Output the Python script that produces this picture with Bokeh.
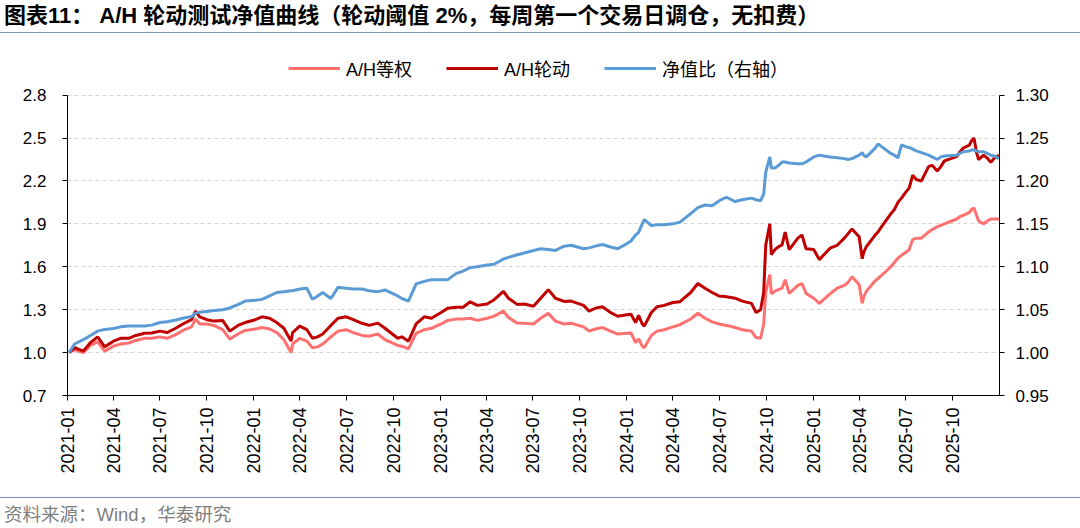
import math
import pandas as pd
from bokeh.plotting import figure
from bokeh.layouts import column
from bokeh.models import (Range1d, LinearAxis, FixedTicker, PrintfTickFormatter,
                          DatetimeTickFormatter, Legend, LegendItem, Div,
                          ColumnDataSource)
from bokeh.embed import file_html
from bokeh.resources import INLINE

title_text = "图表11： A/H 轮动测试净值曲线（轮动阈值 2%，每周第一个交易日调仓，无扣费）"
source_text = "资料来源：Wind，华泰研究"
series_names = ["A/H等权", "A/H轮动", "净值比（右轴）"]

dates = [
    "2021-01-04", "2021-01-15", "2021-02-01", "2021-02-15", "2021-03-01", "2021-03-15",
    "2021-04-01", "2021-04-15", "2021-05-01", "2021-05-15", "2021-06-01", "2021-06-15",
    "2021-07-01", "2021-07-15", "2021-08-01", "2021-08-15", "2021-09-01", "2021-09-09",
    "2021-09-17", "2021-10-01", "2021-10-15", "2021-11-01", "2021-11-15", "2021-12-01",
    "2021-12-15", "2022-01-04", "2022-01-17", "2022-02-01", "2022-02-15", "2022-03-01",
    "2022-03-15", "2022-03-18", "2022-04-01", "2022-04-15", "2022-04-26", "2022-05-06",
    "2022-05-16", "2022-06-01", "2022-06-15", "2022-07-01", "2022-07-15", "2022-08-01",
    "2022-08-15", "2022-09-01", "2022-09-15", "2022-10-10", "2022-10-18", "2022-10-31",
    "2022-11-15", "2022-12-01", "2022-12-15", "2023-01-03", "2023-01-16", "2023-02-01",
    "2023-02-15", "2023-03-01", "2023-03-15", "2023-04-03", "2023-04-17", "2023-05-05",
    "2023-05-15", "2023-06-01", "2023-06-15", "2023-07-03", "2023-07-17", "2023-08-01",
    "2023-08-15", "2023-09-01", "2023-09-15", "2023-10-09", "2023-10-20", "2023-11-01",
    "2023-11-15", "2023-12-01", "2023-12-15", "2024-01-02", "2024-01-10", "2024-01-19",
    "2024-01-25", "2024-02-01", "2024-02-05", "2024-02-19", "2024-03-01", "2024-03-15",
    "2024-04-01", "2024-04-15", "2024-05-06", "2024-05-20", "2024-06-03", "2024-06-17",
    "2024-07-01", "2024-07-15", "2024-08-01", "2024-08-15", "2024-09-02", "2024-09-11",
    "2024-09-20", "2024-09-26", "2024-09-30", "2024-10-08", "2024-10-11", "2024-10-18",
    "2024-10-25", "2024-11-01", "2024-11-07", "2024-11-15", "2024-12-02", "2024-12-10",
    "2024-12-18", "2025-01-02", "2025-01-13", "2025-02-03", "2025-02-17", "2025-03-03",
    "2025-03-10", "2025-03-18", "2025-04-01", "2025-04-07", "2025-04-10", "2025-04-15",
    "2025-05-02", "2025-05-08", "2025-05-15", "2025-06-02", "2025-06-09", "2025-06-16",
    "2025-06-23", "2025-07-01", "2025-07-08", "2025-07-15", "2025-07-22", "2025-08-01",
    "2025-08-15", "2025-08-22", "2025-09-01", "2025-09-08", "2025-09-15", "2025-10-09",
    "2025-10-15", "2025-10-22", "2025-11-03", "2025-11-07", "2025-11-12", "2025-11-17",
    "2025-11-21", "2025-12-01", "2025-12-08", "2025-12-15", "2025-12-22", "2025-12-31",
]

equal_weight = [
    1.00, 1.02, 1.00, 1.05, 1.075, 1.01,
    1.045, 1.06, 1.067, 1.085, 1.10, 1.10,
    1.11, 1.10, 1.125, 1.155, 1.18, 1.234,
    1.20, 1.20, 1.19, 1.16, 1.095, 1.13,
    1.155, 1.165, 1.175, 1.165, 1.14, 1.09,
    1.00, 1.06, 1.10, 1.08, 1.033, 1.04,
    1.06, 1.11, 1.15, 1.16, 1.14, 1.12,
    1.115, 1.13, 1.09, 1.05, 1.045, 1.026,
    1.135, 1.16, 1.17, 1.20, 1.225, 1.234,
    1.235, 1.24, 1.225, 1.24, 1.255, 1.29,
    1.245, 1.206, 1.205, 1.20, 1.24, 1.275,
    1.22, 1.20, 1.205, 1.18, 1.15, 1.165,
    1.175, 1.15, 1.13, 1.135, 1.137, 1.07,
    1.095, 1.045, 1.033, 1.12, 1.15, 1.16,
    1.18, 1.195, 1.235, 1.275, 1.24, 1.215,
    1.20, 1.19, 1.175, 1.16, 1.15, 1.105,
    1.10, 1.20, 1.42, 1.545, 1.41, 1.43,
    1.44, 1.45, 1.51, 1.414, 1.47, 1.483,
    1.414, 1.38, 1.344, 1.41, 1.45, 1.47,
    1.49, 1.53, 1.476, 1.344, 1.39, 1.428,
    1.50, 1.518, 1.54, 1.60, 1.63, 1.66,
    1.68, 1.70, 1.72, 1.79, 1.80, 1.80,
    1.843, 1.86, 1.88, 1.89, 1.90, 1.934,
    1.95, 1.96, 1.98, 2.00, 2.01, 1.96,
    1.92, 1.90, 1.92, 1.934, 1.934, 1.934,
]

rotation = [
    1.00, 1.035, 1.01, 1.07, 1.11, 1.04,
    1.08, 1.10, 1.10, 1.12, 1.135, 1.137,
    1.15, 1.14, 1.17, 1.20, 1.23, 1.29,
    1.25, 1.23, 1.22, 1.225, 1.15, 1.19,
    1.21, 1.23, 1.25, 1.24, 1.21, 1.17,
    1.08, 1.14, 1.185, 1.16, 1.10, 1.11,
    1.13, 1.19, 1.24, 1.25, 1.23, 1.205,
    1.19, 1.206, 1.17, 1.10, 1.11, 1.08,
    1.20, 1.25, 1.24, 1.28, 1.31, 1.317,
    1.317, 1.355, 1.33, 1.34, 1.37, 1.428,
    1.38, 1.337, 1.34, 1.324, 1.38, 1.44,
    1.38, 1.358, 1.36, 1.33, 1.29, 1.31,
    1.32, 1.28, 1.254, 1.265, 1.268, 1.21,
    1.26, 1.20, 1.185, 1.28, 1.32, 1.33,
    1.35, 1.356, 1.42, 1.483, 1.45, 1.42,
    1.395, 1.39, 1.38, 1.36, 1.344, 1.28,
    1.30, 1.42, 1.75, 1.90, 1.684, 1.72,
    1.74, 1.753, 1.843, 1.72, 1.80, 1.823,
    1.726, 1.72, 1.65, 1.73, 1.75, 1.80,
    1.83, 1.864, 1.81, 1.656, 1.70, 1.74,
    1.82, 1.843, 1.88, 1.97, 2.00, 2.05,
    2.08, 2.12, 2.15, 2.24, 2.21, 2.20,
    2.30, 2.31, 2.27, 2.30, 2.34, 2.37,
    2.40, 2.43, 2.45, 2.48, 2.50, 2.40,
    2.35, 2.38, 2.36, 2.33, 2.36, 2.38,
]

ratio = [
    1.000, 1.010, 1.015, 1.020, 1.025, 1.027,
    1.028, 1.030, 1.031, 1.031, 1.031, 1.032,
    1.035, 1.036, 1.038, 1.040, 1.042, 1.046,
    1.047, 1.048, 1.049, 1.050, 1.052, 1.056,
    1.060, 1.061, 1.062, 1.066, 1.070, 1.071,
    1.072, 1.072, 1.074, 1.075, 1.062, 1.066,
    1.070, 1.063, 1.076, 1.075, 1.074, 1.074,
    1.072, 1.071, 1.073, 1.066, 1.063, 1.060,
    1.080, 1.083, 1.085, 1.085, 1.085, 1.092,
    1.095, 1.099, 1.100, 1.102, 1.103, 1.109,
    1.111, 1.114, 1.116, 1.119, 1.121, 1.120,
    1.119, 1.124, 1.125, 1.121, 1.122, 1.124,
    1.126, 1.123, 1.121, 1.127, 1.130, 1.137,
    1.140, 1.150, 1.155, 1.148, 1.149, 1.149,
    1.150, 1.152, 1.162, 1.169, 1.172, 1.171,
    1.177, 1.181, 1.176, 1.178, 1.180, 1.178,
    1.177, 1.185, 1.210, 1.228, 1.215, 1.215,
    1.218, 1.222, 1.222, 1.221, 1.220, 1.220,
    1.222, 1.228, 1.230, 1.228, 1.227, 1.226,
    1.225, 1.226, 1.230, 1.233, 1.230, 1.228,
    1.238, 1.243, 1.240, 1.232, 1.230, 1.227,
    1.242, 1.240, 1.239, 1.237, 1.235, 1.233,
    1.230, 1.228, 1.225, 1.228, 1.229, 1.230,
    1.232, 1.234, 1.235, 1.236, 1.236, 1.235,
    1.234, 1.234, 1.232, 1.230, 1.229, 1.226,
]

left_ticks = [0.7, 1.0, 1.3, 1.6, 1.9, 2.2, 2.5, 2.8]
right_ticks = [0.95, 1.00, 1.05, 1.10, 1.15, 1.20, 1.25, 1.30]
tick_months = [
    "2021-01", "2021-04", "2021-07", "2021-10", "2022-01", "2022-04", "2022-07",
    "2022-10", "2023-01", "2023-04", "2023-07", "2023-10", "2024-01", "2024-04",
    "2024-07", "2024-10", "2025-01", "2025-04", "2025-07", "2025-10",
]

FONT = "Liberation Sans, Noto Sans CJK SC"
C_EQ = "#FF7070"
C_ROT = "#C00000"
C_RATIO = "#5B9BD5"
C_SEP = "#7F95C0"

# frame reaches above the 2.8 line to hold the legend; axes are bounded to the data span
TOP_PAD = 45 / 303
left_lo, left_hi = left_ticks[0], left_ticks[-1]
right_lo, right_hi = right_ticks[0], right_ticks[-1]

source = ColumnDataSource(data=dict(
    date=pd.to_datetime(dates), eq=equal_weight, rot=rotation, ratio=ratio))

p = figure(width=1080, height=464, x_axis_type="datetime",
           x_range=Range1d(pd.Timestamp("2021-01-01"), pd.Timestamp("2026-01-01")),
           y_range=Range1d(left_lo, left_hi + (left_hi - left_lo) * TOP_PAD),
           output_backend="svg", toolbar_location=None,
           min_border_left=67, min_border_right=81, min_border_top=17, min_border_bottom=102)
p.extra_y_ranges = {"ratio": Range1d(right_lo, right_hi + (right_hi - right_lo) * TOP_PAD)}
p.outline_line_color = None
p.background_fill_color = "white"
p.border_fill_color = "white"

r_eq = p.line("date", "eq", source=source, line_color=C_EQ, line_width=3)
r_rot = p.line("date", "rot", source=source, line_color=C_ROT, line_width=3)
r_ratio = p.line("date", "ratio", source=source, line_color=C_RATIO, line_width=3,
                 y_range_name="ratio")

tick_ms = [pd.Timestamp(m + "-01").value / 1e6 for m in tick_months]
xax = p.xaxis[0]
xax.ticker = FixedTicker(ticks=tick_ms)
fmt = "%Y-%m"
xax.formatter = DatetimeTickFormatter(microseconds=fmt, milliseconds=fmt, seconds=fmt,
                                      minsec=fmt, minutes=fmt, hourmin=fmt, hours=fmt,
                                      days=fmt, months=fmt, years=fmt)
xax.major_label_orientation = math.pi / 2
xax.major_label_standoff = 7
xax.major_tick_out = 5
xax.major_tick_in = 0
xax.minor_tick_line_color = None
xax.axis_line_color = "#000000"
xax.major_tick_line_color = "#000000"
xax.major_label_text_font = FONT
xax.major_label_text_font_size = "18px"
xax.major_label_text_color = "#000000"

yax = p.yaxis[0]
yax.ticker = FixedTicker(ticks=left_ticks)
yax.formatter = PrintfTickFormatter(format="%.1f")
yax.bounds = (left_lo, left_hi)
yax.major_label_standoff = 16
yax.major_tick_out = 5
yax.major_tick_in = 0
yax.minor_tick_line_color = None
yax.axis_line_color = "#000000"
yax.major_tick_line_color = "#000000"
yax.major_label_text_font = FONT
yax.major_label_text_font_size = "17px"
yax.major_label_text_color = "#000000"

rax = LinearAxis(y_range_name="ratio", ticker=FixedTicker(ticks=right_ticks),
                 formatter=PrintfTickFormatter(format="%.2f"), bounds=(right_lo, right_hi))
rax.major_label_standoff = 11
rax.major_tick_out = 5
rax.major_tick_in = 0
rax.minor_tick_line_color = None
rax.axis_line_color = "#000000"
rax.major_tick_line_color = "#000000"
rax.major_label_text_font = FONT
rax.major_label_text_font_size = "17px"
rax.major_label_text_color = "#000000"
p.add_layout(rax, "right")

p.xgrid.visible = False
p.ygrid.ticker = FixedTicker(ticks=left_ticks)
p.ygrid.grid_line_color = "#D4D4D4"
p.ygrid.grid_line_dash = "4 3"
p.ygrid.grid_line_width = 1

legend = Legend(items=[LegendItem(label=series_names[0], renderers=[r_eq]),
                       LegendItem(label=series_names[1], renderers=[r_rot]),
                       LegendItem(label=series_names[2], renderers=[r_ratio])],
                location=(221, 314), orientation="horizontal",
                glyph_width=52, glyph_height=20, label_standoff=6, spacing=34,
                padding=0, margin=0, border_line_alpha=0, background_fill_alpha=0,
                label_text_font=FONT, label_text_font_size="18px",
                label_text_color="#000000")
p.add_layout(legend, "center")

title_div = Div(text=title_text, width=1080, height=33, margin=0,
                styles={"font-family": FONT, "font-size": "22px", "font-weight": "bold",
                        "color": "#000000", "line-height": "31px", "padding-left": "4px",
                        "border-bottom": "1.5px solid " + C_SEP, "box-sizing": "border-box",
                        "white-space": "nowrap"})
footer_div = Div(text=source_text, width=1080, height=29, margin=0,
                 styles={"font-family": FONT, "font-size": "18.5px", "color": "#7F7F7F",
                         "line-height": "33px", "padding-left": "4px",
                         "border-top": "1.5px solid " + C_SEP, "box-sizing": "border-box",
                         "white-space": "nowrap"})

layout = column(title_div, p, footer_div, spacing=0)
open("out.html", "w").write(file_html(layout, INLINE))
